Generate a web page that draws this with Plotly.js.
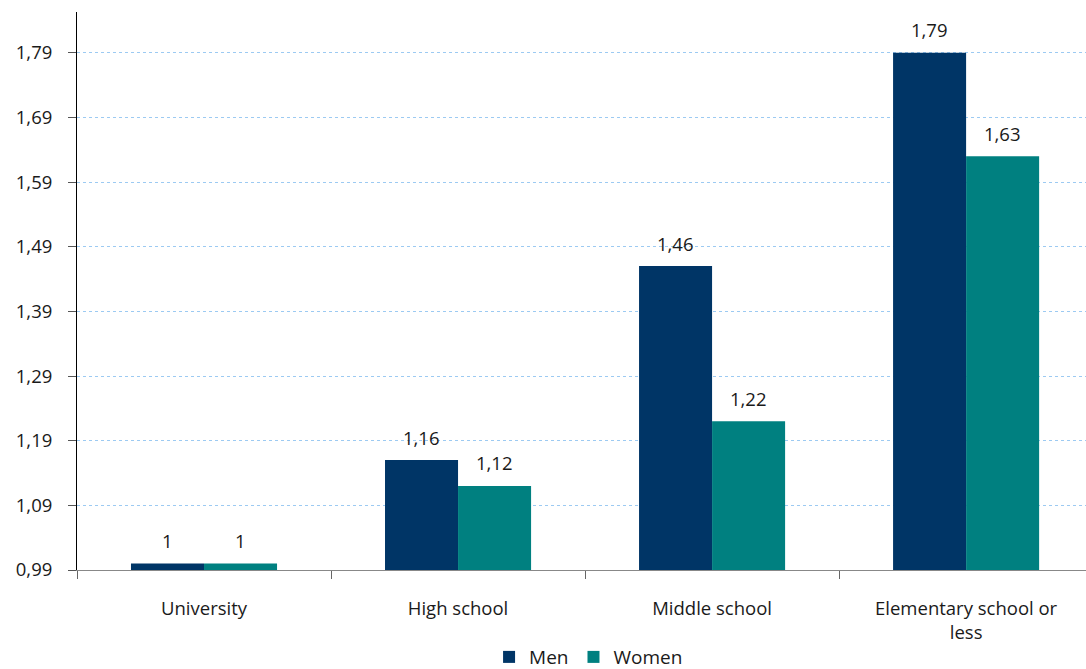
<!DOCTYPE html>
<html><head><meta charset="utf-8">
<script src="https://cdn.plot.ly/plotly-3.0.1.min.js"></script>
<style>html,body{margin:0;padding:0;background:#fff}#chart{width:1086px;height:669px}</style>
</head><body><div id="chart"></div>
<script>
const categories = ["University", "High school", "Middle school", "Elementary school or<br>less"];
const men = [1.00, 1.16, 1.46, 1.79];
const women = [1.00, 1.12, 1.22, 1.63];
const menLabels = ["1", "1,16", "1,46", "1,79"];
const womenLabels = ["1", "1,12", "1,22", "1,63"];

const font = {family: "Open Sans, Noto Sans, sans-serif", size: 18.5, color: "#1a1a1a"};
const traces = [
  {type: "bar", name: "Men", x: categories, y: men, marker: {color: "#003566"}, hoverinfo: "y"},
  {type: "bar", name: "Women", x: categories, y: women, marker: {color: "#008080"}, hoverinfo: "y"}
];
const annotations = [];
categories.forEach((c, i) => {
  annotations.push({x: c, y: men[i], text: menLabels[i], xref: "x", yref: "y", showarrow: false,
    xshift: -36.5, yshift: 23, yanchor: "middle", font: font});
  annotations.push({x: c, y: women[i], text: womenLabels[i], xref: "x", yref: "y", showarrow: false,
    xshift: 36.5, yshift: 23, yanchor: "middle", font: font});
});
const layout = {
  width: 1086, height: 669,
  margin: {l: 77, r: 0, t: 12, b: 99, autoexpand: false},
  paper_bgcolor: "#fff", plot_bgcolor: "#fff",
  font: font,
  separators: ",.",
  barmode: "group", bargap: 0.425, bargroupgap: 0,
  showlegend: true,
  legend: {orientation: "h", x: 0.507, xanchor: "center", y: -0.156, yanchor: "middle",
    font: {family: font.family, size: 19, color: "#1a1a1a"}, itemwidth: 30, traceorder: "normal"},
  xaxis: {type: "category", range: [-0.5, 3.472], showline: true, linecolor: "#888", linewidth: 1,
    ticks: "outside", tickson: "boundaries", ticklen: 8, tickcolor: "#666", automargin: false,
    ticklabelstandoff: 22, showgrid: false, zeroline: false, tickfont: font, fixedrange: true},
  yaxis: {range: [0.99, 1.853], tick0: 0.99, dtick: 0.1, tickformat: ".2f", automargin: false,
    showline: true, linecolor: "#000", linewidth: 1, ticks: "outside", ticklen: 8, tickcolor: "#555",
    ticklabelstandoff: 12,
    showgrid: true, gridcolor: "#9ccaf2", griddash: "dot", gridwidth: 1, zeroline: false,
    tickfont: font, fixedrange: true},
  annotations: annotations
};
Plotly.newPlot("chart", traces, layout, {displayModeBar: false, staticPlot: true});
</script></body></html>
